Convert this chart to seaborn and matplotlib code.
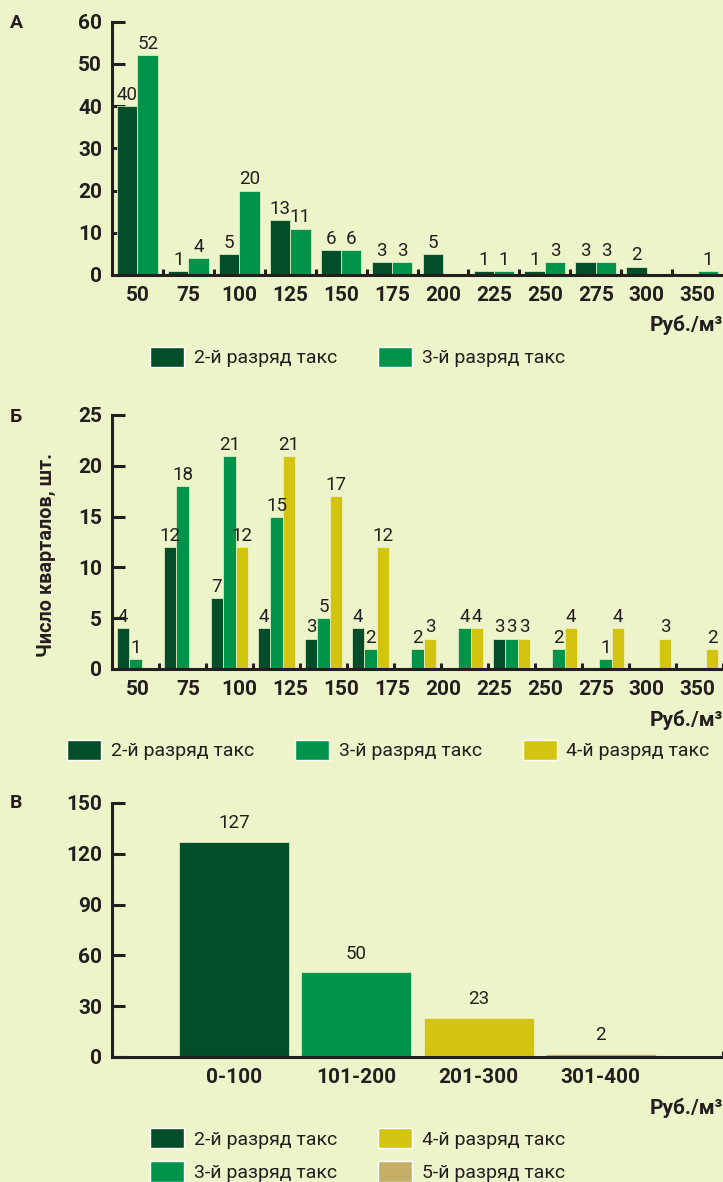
import matplotlib.pyplot as plt
import numpy as np
import pandas as pd
import seaborn as sns
from matplotlib import font_manager
from matplotlib.patches import Patch

# DONNEES --------------------------------

grades = ["2-й разряд такс", "3-й разряд такс", "4-й разряд такс", "5-й разряд такс"]

# A : deux разряда
prices_a = ["50", "75", "100", "125", "150", "175", "200", "225", "250", "275", "300", "350"]
grade2_a = [40, 1, 5, 13, 6, 3, 5, 1, 1, 3, 2, 0]
grade3_a = [52, 4, 20, 11, 6, 3, 0, 1, 3, 3, 0, 1]

# Б : 13 groupes de barres, 12 etiquettes sous l'axe
groups_b = list(range(13))
grade2_b = [4, 12, 7, 4, 3, 4, 0, 0, 3, 0, 0, 0, 0]
grade3_b = [1, 18, 21, 15, 5, 2, 2, 4, 3, 2, 1, 0, 0]
grade4_b = [0, 0, 12, 21, 17, 12, 3, 4, 3, 4, 4, 3, 2]
prices_b = prices_a

# В : totaux par tranche
ranges_c = ["0-100", "101-200", "201-300", "301-400"]
counts_c = [127, 50, 23, 2]

colors = ["#034D29", "#00944A", "#D3C50F", "#C4AE68"]
BG = "#EEF4C9"
INK = "#231F20"

# police avec une graisse bold disponible
bold_fams = {f.name for f in font_manager.fontManager.ttflist
             if f.weight in ("bold", 700, "700") or str(f.weight) == "700"}
FAMILY = next((f for f in ["Roboto", "Open Sans", "Lato", "Noto Sans", "Liberation Sans"]
               if f in bold_fams), "DejaVu Sans")

sns.set_theme(style="ticks")
plt.rcParams["font.family"] = [FAMILY, "DejaVu Sans"]
plt.rcParams["text.color"] = INK

W, H = 723, 1182
fig = plt.figure(figsize=(W / 100, H / 100), dpi=100, facecolor=BG)


def frac_y(py):
    return 1 - py / H


def make_axes(top_px, bottom_px):
    return fig.add_axes([112 / W, frac_y(bottom_px), 1 - 112 / W, (bottom_px - top_px) / H])


def style(ax, ymax, ystep):
    ax.set_facecolor(BG)
    ax.set_ylim(0, ymax)
    yt = np.arange(0, ymax + 1, ystep)
    ax.set_yticks(yt, [str(v) for v in yt], fontweight="bold")
    sns.despine(ax=ax)
    for s in ["left", "bottom"]:
        ax.spines[s].set_linewidth(2.2)
        ax.spines[s].set_color(INK)
    ax.tick_params(axis="y", direction="in", length=9, width=2.2, pad=7,
                   labelsize=15, colors=INK)
    ax.tick_params(axis="x", which="major", length=0, pad=8, labelsize=15, colors=INK)
    ax.tick_params(axis="x", which="minor", direction="in", length=4, width=2.2, colors=INK)
    ax.set_xlabel("")
    ax.set_ylabel("")


def legend(ax, n, x_px, y_px, ncol):
    handles = [Patch(facecolor=colors[i], label=grades[i]) for i in range(n)]
    ax.legend(handles=handles, loc="center left", bbox_to_anchor=(x_px / W, frac_y(y_px)),
              bbox_transform=fig.transFigure, ncol=ncol, frameon=False, fontsize=14,
              handlelength=1.75, handleheight=1.26, handletextpad=0.5,
              columnspacing=2.1, labelspacing=0.66, borderpad=0, borderaxespad=0)


def label_bars(ax, series, pad):
    for cont, vals in zip(ax.containers, series):
        ax.bar_label(cont, labels=[str(v) if v else "" for v in vals], padding=pad,
                     fontsize=13.5, color=INK)


# A ----------------------------------------
ax_a = make_axes(21.7, 275)
df_a = pd.DataFrame({
    "price": prices_a * 2,
    "grade": [grades[0]] * len(prices_a) + [grades[1]] * len(prices_a),
    "n": grade2_a + grade3_a,
})
sns.barplot(data=df_a, x="price", y="n", hue="grade", order=prices_a, hue_order=grades[:2],
            palette=colors[:2], saturation=1, width=0.8, edgecolor=BG, linewidth=0.5,
            errorbar=None, legend=False, ax=ax_a)
style(ax_a, 60, 10)
ax_a.set_xlim(-0.5, 11.5)
ax_a.set_xticks(range(len(prices_a)), prices_a, fontweight="bold")
ax_a.set_xticks(np.arange(0.5, 11), minor=True)
label_bars(ax_a, [grade2_a, grade3_a], 1.5)
legend(ax_a, 2, 150, 357, 2)

# Б ----------------------------------------
ax_b = make_axes(415, 669)
df_b = pd.DataFrame({
    "group": groups_b * 3,
    "grade": [g for g in grades[:3] for _ in groups_b],
    "n": grade2_b + grade3_b + grade4_b,
})
sns.barplot(data=df_b, x="group", y="n", hue="grade", hue_order=grades[:3],
            palette=colors[:3], saturation=1, width=0.8, edgecolor=BG, linewidth=0.5,
            errorbar=None, legend=False, ax=ax_b)
style(ax_b, 25, 5)
ax_b.set_xlim(-0.5, 12.5)
# les etiquettes suivent l'espacement du graphique A, pas celui des groupes
lab_pos = (np.arange(len(prices_b)) + 0.5) * len(groups_b) / len(prices_b) - 0.5
ax_b.set_xticks(lab_pos, prices_b, fontweight="bold")
ax_b.set_xticks(np.arange(0.5, 13), minor=True)
label_bars(ax_b, [grade2_b, grade3_b, grade4_b], 1.5)
legend(ax_b, 3, 67, 750, 3)

# В ----------------------------------------
ax_c = make_axes(803, 1057)
df_c = pd.DataFrame({"range": ranges_c, "n": counts_c, "grade": grades})
sns.barplot(data=df_c, x="range", y="n", hue="grade", hue_order=grades, palette=colors,
            saturation=1, width=0.9, dodge=False, edgecolor=BG, linewidth=0.5,
            errorbar=None, legend=False, ax=ax_c)
style(ax_c, 150, 30)
ax_c.set_xlim(-1, 4)
ax_c.set_xticks(range(len(ranges_c)), ranges_c, fontweight="bold")
ax_c.set_xticks([4], minor=True)
label_bars(ax_c, [[v] for v in counts_c], 7)
legend(ax_c, 4, 150, 1155, 2)

# textes ----------------------------------------
for letter, y in [("А", 23), ("Б", 417), ("В", 803)]:
    fig.text(10 / W, frac_y(y), letter, fontsize=14, fontweight="bold", va="center")
for y in [325, 720, 1108]:
    fig.text(723 / W, frac_y(y), "Руб./м³", fontsize=15, fontweight="bold",
             ha="right", va="center")
fig.text(46 / W, frac_y(555), "Число кварталов, шт.", fontsize=14.3, fontweight="bold",
         rotation=90, ha="center", va="center")

fig.savefig("out.png", dpi=100, facecolor=BG)
